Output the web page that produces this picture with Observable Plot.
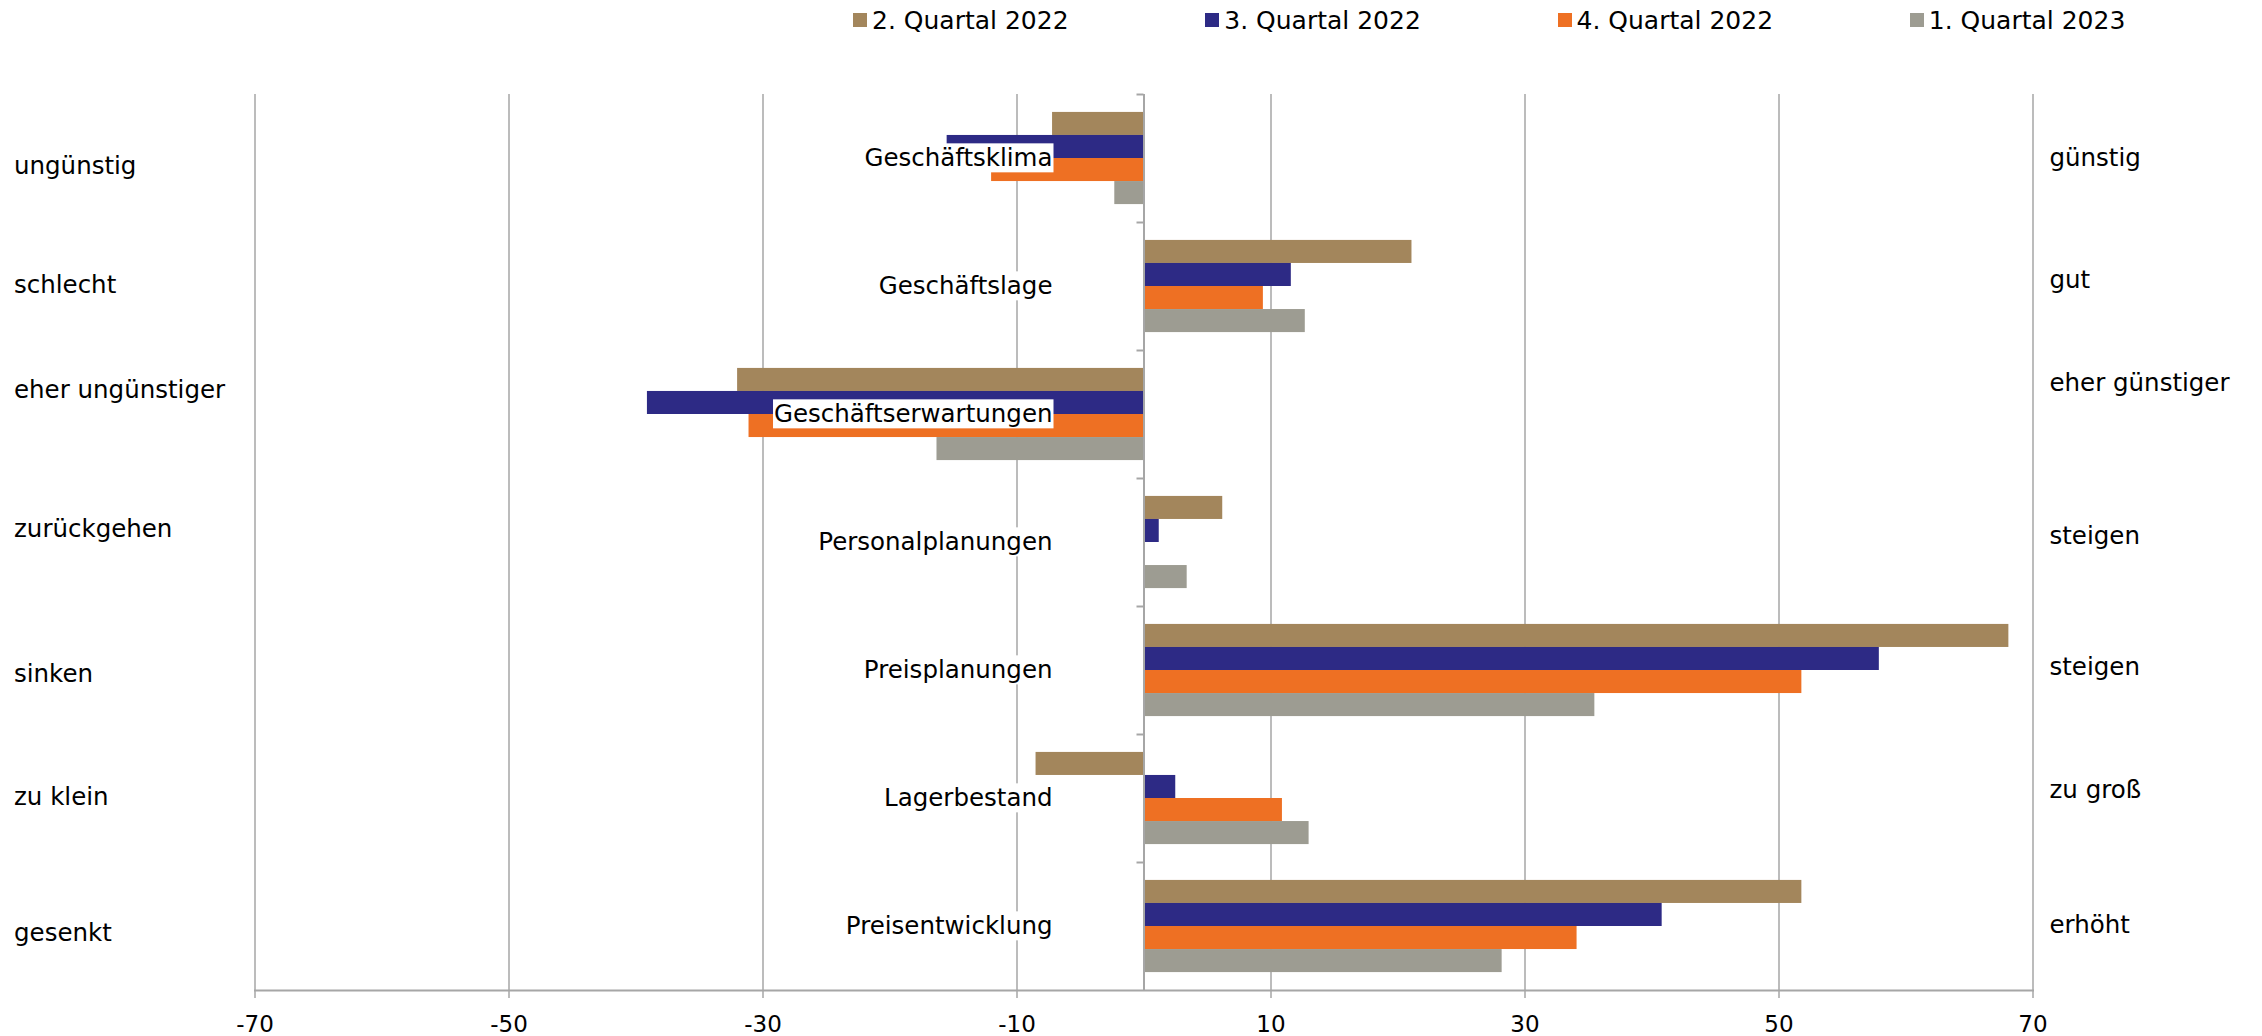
<!DOCTYPE html>
<html><head><meta charset="utf-8">
<script src="https://cdn.jsdelivr.net/npm/d3@7"></script>
<script src="https://cdn.jsdelivr.net/npm/@observablehq/plot@0.6"></script>
<style>
html,body{margin:0;padding:0;background:#fff;}
body{font-family:"DejaVu Sans",Verdana,sans-serif;width:2262px;height:1036px;overflow:hidden;}
#legend{height:40px;display:flex;align-items:center;padding-left:853px;box-sizing:border-box;}
.item{width:365.7px;display:flex;align-items:center;font-size:25px;color:#000;white-space:nowrap;}
.sw{width:14px;height:14px;margin-right:5px;flex:none;}
#chart svg{display:block;}
</style></head><body>
<div id="legend"></div>
<div id="chart"></div>
<script>
// ---- data ----
const categories = ["Geschäftsklima","Geschäftslage","Geschäftserwartungen","Personalplanungen","Preisplanungen","Lagerbestand","Preisentwicklung"];
const leftLabels = ["ungünstig","schlecht","eher ungünstiger","zurückgehen","sinken","zu klein","gesenkt"];
const rightLabels = ["günstig","gut","eher günstiger","steigen","steigen","zu groß","erhöht"];
const quarters = ["2. Quartal 2022","3. Quartal 2022","4. Quartal 2022","1. Quartal 2023"];
const q2_2022 = [-7.2, 21.1, -32.0, 6.2, 68.1, -8.5, 51.8];
const q3_2022 = [-15.5, 11.6, -39.1, 1.2, 57.9, 2.5, 40.8];
const q4_2022 = [-12.0, 9.4, -31.1, 0, 51.8, 10.9, 34.1];
const q1_2023 = [-2.3, 12.7, -16.3, 3.4, 35.5, 13.0, 28.2];
const xTicks = [-70, -50, -30, -10, 10, 30, 50, 70];

// ---- style / layout ----
const colors = ["#A3865C", "#2D2A85", "#EE7023", "#9D9C92"];
// vertical nudges (px) of the side labels, as placed in the original
const leftNudge = [8, -1.5, -24, -13, 3.6, -1.5, 7];
const rightNudge = [0, -6, -31, -6, -3.6, -8.7, -1.5];

// ---- legend ----
const legend = document.getElementById("legend");
quarters.forEach((q, j) => {
  const it = document.createElement("div");
  it.className = "item";
  const sw = document.createElement("span");
  sw.className = "sw";
  sw.style.background = colors[j];
  it.appendChild(sw);
  it.appendChild(document.createTextNode(q));
  legend.appendChild(it);
});

// ---- chart ----
const series = [q2_2022, q3_2022, q4_2022, q1_2023];
const rows = categories.flatMap((c, i) => quarters.map((q, j) => ({category: c, quarter: q, value: series[j][i]})));
const catRows = categories.map((c, i) => ({category: c, left: leftLabels[i], right: rightLabels[i]}));

const W = 2262, H = 996;
const mTop = 54, mBottom = 46, mLeft = 254.5, mRight = 229.5;
const band = (H - mTop - mBottom) / categories.length;
const barH = band * 0.18;
const padTop = (band - barH * quarters.length) / 2;
const gridColor = "#A6A6A6";
const font = "DejaVu Sans, Verdana, sans-serif";
const fs = 24.5;

const barMarks = quarters.map((q, j) =>
  Plot.barX(rows.filter(d => d.quarter === q), {
    x: "value", y: "category", fill: colors[j],
    insetTop: padTop + j * barH,
    insetBottom: band - padTop - (j + 1) * barH
  })
);

const sideMarks = catRows.flatMap((r, i) => [
  Plot.text([r], {y: "category", text: "left", frameAnchor: "left", textAnchor: "start", dx: 13.5 - mLeft, dy: leftNudge[i], fontSize: fs, fill: "#000"}),
  Plot.text([r], {y: "category", text: "right", frameAnchor: "right", textAnchor: "start", dx: 16.5, dy: rightNudge[i], fontSize: fs, fill: "#000"})
]);

const chart = Plot.plot({
  width: W, height: H,
  marginTop: mTop, marginBottom: mBottom, marginLeft: mLeft, marginRight: mRight,
  style: {fontFamily: font, background: "#fff", color: "#000"},
  x: {domain: [-70, 70], label: null},
  y: {domain: categories, padding: 0, axis: null},
  marks: [
    Plot.gridX(xTicks, {stroke: gridColor, strokeOpacity: 1, strokeWidth: 1.5}),
    ...barMarks,
    Plot.ruleX([0], {stroke: gridColor, strokeWidth: 2}),
    Plot.ruleY(categories, {y: d => d, x1: 0, x2: 0, insetLeft: -7, dy: -band / 2, stroke: gridColor, strokeWidth: 2}),
    Plot.frame({anchor: "bottom", stroke: gridColor, strokeWidth: 2}),
    Plot.axisX(xTicks, {tickSize: 8, tickPadding: 17, fontSize: 23, stroke: gridColor, strokeWidth: 1.5, tickFormat: d => String(d), label: null}),
    Plot.text(catRows, {y: "category", x: 0, text: "category", textAnchor: "end", dx: -91.5, fontSize: fs, fill: "#000", className: "catlabels", ariaDescription: "catlabels"}),
    ...sideMarks
  ]
});
document.getElementById("chart").appendChild(chart);

// white boxes behind the category labels
const lab = chart.querySelector("g.catlabels") || chart.querySelector('g[aria-description="catlabels"]');
if (lab) {
  lab.querySelectorAll("text").forEach(t => {
    const b = t.getBBox();
    const r = document.createElementNS("http://www.w3.org/2000/svg", "rect");
    r.setAttribute("x", b.x - 1);
    r.setAttribute("y", b.y);
    r.setAttribute("width", b.width + 2);
    r.setAttribute("height", b.height);
    r.setAttribute("fill", "#fff");
    const tr = t.getAttribute("transform");
    if (tr) r.setAttribute("transform", tr);
    t.parentNode.insertBefore(r, t);
  });
}
</script>
</body></html>
